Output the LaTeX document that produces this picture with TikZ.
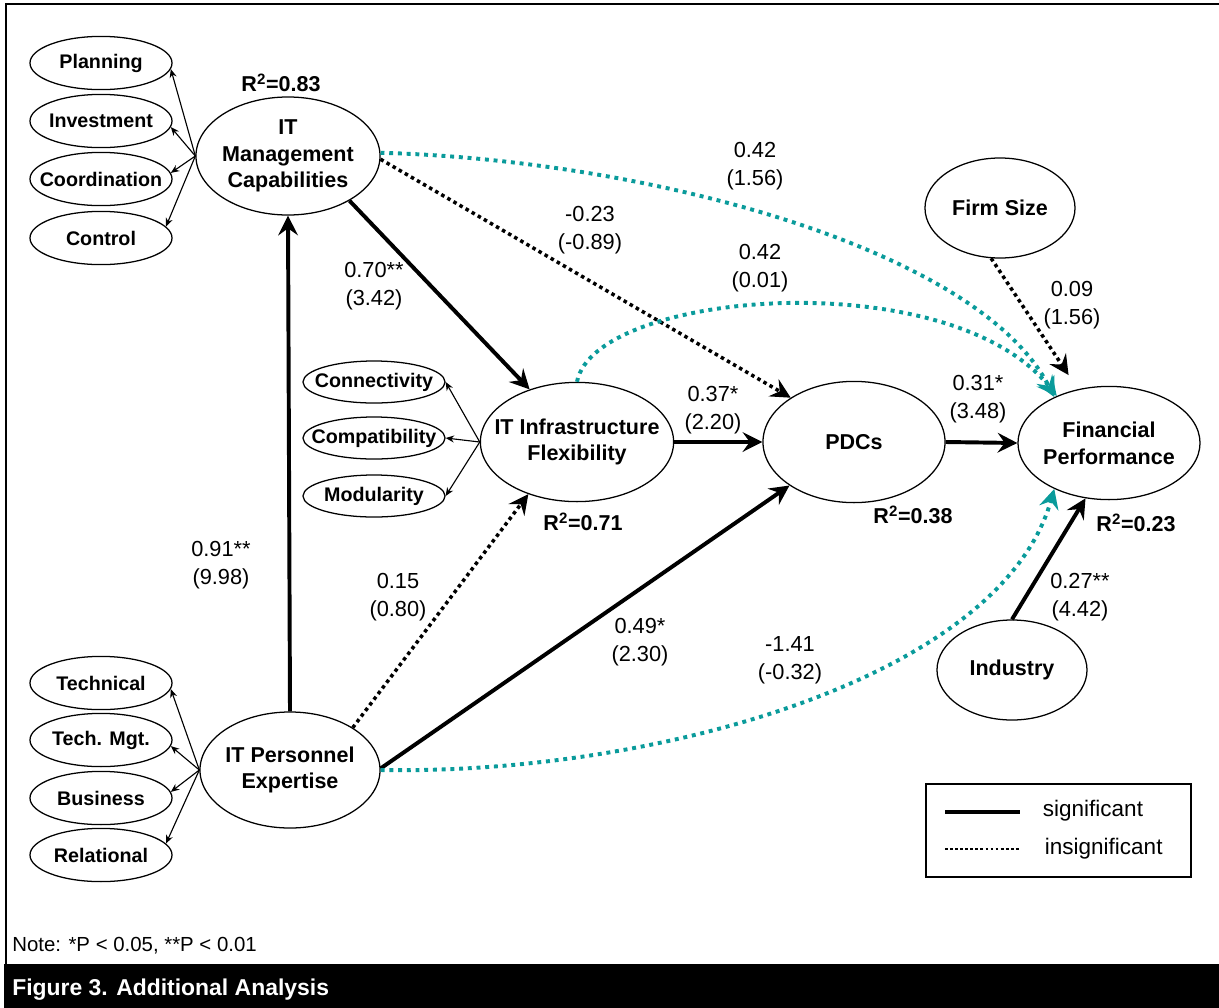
\documentclass[tikz,border=0pt]{standalone}
\usepackage{fontspec}
\setmainfont{Liberation Sans}
\usetikzlibrary{shapes.geometric,arrows.meta}
\definecolor{pathteal}{RGB}{10,155,155}

\begin{document}
\begin{tikzpicture}[x=0.025cm,y=-0.025cm,
    latent/.style={draw,ellipse,line width=0.9pt,inner xsep=-2cm,inner ysep=-1cm,align=center,font=\bfseries\fontsize{15.3}{19}\selectfont},
    indicator/.style={draw,ellipse,line width=0.9pt,inner xsep=-2cm,inner ysep=-1cm,minimum width=3.55cm,minimum height=1.33cm,font=\bfseries\fontsize{14}{17}\selectfont},
    coef/.style={align=center,font=\fontsize{15.5}{19.8}\selectfont},
    rsq/.style={font=\bfseries\fontsize{15.3}{18}\selectfont},
    sig/.style={line width=2.8pt,-{Stealth[length=14pt,width=14pt,inset=5pt]}},
    insig/.style={line width=2.5pt,dash pattern=on 2.5pt off 2.5pt,-{Stealth[length=14pt,width=14pt,inset=5pt]}},
    insigteal/.style={insig,pathteal,line width=2.8pt,dash pattern=on 2.8pt off 3.4pt},
    load/.style={line width=0.8pt,-{Stealth[length=6pt,width=5pt]}}]
        \useasboundingbox (0,0) rectangle (1219,1008);
        % frame
        \draw[line width=1.5pt] (1219,4) -- (6,4) -- (6,964);
        \fill (4,964) rectangle (1219,1008);
        % constructs
        \node[latent,minimum width=4.6cm,minimum height=2.95cm] (mgmt) at (288,156) {IT\\Management\\Capabilities};
        \node[latent,minimum width=4.83cm,minimum height=2.98cm] (infra) at (577,442) {IT Infrastructure\\Flexibility};
        \node[latent,minimum width=4.5cm,minimum height=2.9cm] (pers) at (290,770) {IT Personnel\\Expertise};
        \node[latent,minimum width=4.55cm,minimum height=3.03cm] (pdcs) at (854,442) {PDCs};
        \node[latent,minimum width=4.55cm,minimum height=2.83cm] (fin) at (1109,443) {Financial\\Performance};
        \node[latent,minimum width=3.75cm,minimum height=2.5cm] (firm) at (1000,208) {Firm Size};
        \node[latent,minimum width=3.75cm,minimum height=2.5cm] (ind) at (1012,670) {Industry};
        % indicators
        \node[indicator] (plan) at (101,63) {Planning};
        \node[indicator] (invest) at (101,121) {Investment};
        \node[indicator] (coord) at (101,179) {Coordination};
        \node[indicator] (ctrl) at (101,238) {Control};
        \node[indicator,minimum height=1.05cm] (conn) at (374,382) {Connectivity};
        \node[indicator,minimum height=1.05cm] (compat) at (374,438) {Compatibility};
        \node[indicator,minimum height=1.05cm] (modul) at (374,496) {Modularity};
        \node[indicator] (tech) at (101,683) {Technical};
        \node[indicator] (techmgt) at (101,740) {Tech. Mgt.};
        \node[indicator] (bus) at (101,798) {Business};
        \node[indicator] (rel) at (101,855) {Relational};
        % loadings
        \draw[load] (mgmt.west) -- (plan.-5);
        \draw[load] (mgmt.west) -- (invest.-5);
        \draw[load] (mgmt.west) -- (coord.5);
        \draw[load] (mgmt.west) -- (ctrl.10);
        \draw[load] (infra.west) -- (conn.east);
        \draw[load] (infra.west) -- (compat.east);
        \draw[load] (infra.west) -- (modul.east);
        \draw[load] (pers.west) -- (tech.-5);
        \draw[load] (pers.west) -- (techmgt.-5);
        \draw[load] (pers.west) -- (bus.5);
        \draw[load] (pers.west) -- (rel.10);
        % paths
        \draw[sig] (pers.north) -- (mgmt.south);
        \draw[sig] (mgmt.-36) -- (infra.132);
        \draw[insig] (mgmt.-2) -- (pdcs.145);
        \draw[insigteal] (mgmt.2) .. controls (650,160) and (980,250) .. (fin.140);
        \draw[insigteal] (infra.north) .. controls (595,290) and (950,262) .. (fin.138);
        \draw[sig] (infra.east) -- (pdcs.west);
        \draw[insig] (pers.34) -- (infra.-133);
        \draw[sig] (pers.1) -- (pdcs.-146);
        \draw[insigteal] (pers.east) .. controls (650,775) and (1000,680) .. (fin.-140);
        \draw[sig] (pdcs.east) -- (fin.west);
        \draw[insig,shorten >=12pt] (firm.-100) -- (fin.120);
        \draw[sig] (ind.north) -- (fin.-113);
        % coefficients
        \node[coef] at (221,565) {0.91**\\(9.98)};
        \node[coef] at (374,286) {0.70**\\(3.42)};
        \node[coef] at (590,230) {-0.23\\(-0.89)};
        \node[coef] at (755,166) {0.42\\(1.56)};
        \node[coef] at (760,268) {0.42\\(0.01)};
        \node[coef] at (713,410) {0.37*\\(2.20)};
        \node[coef] at (978,399) {0.31*\\(3.48)};
        \node[coef] at (1072,305) {0.09\\(1.56)};
        \node[coef] at (398,597) {0.15\\(0.80)};
        \node[coef] at (640,642) {0.49*\\(2.30)};
        \node[coef] at (790,660) {-1.41\\(-0.32)};
        \node[coef] at (1080,597) {0.27**\\(4.42)};
        % r squared
        \node[rsq] at (281,83) {R\textsuperscript{2}=0.83};
        \node[rsq] at (583,522) {R\textsuperscript{2}=0.71};
        \node[rsq] at (913,515) {R\textsuperscript{2}=0.38};
        \node[rsq] at (1136,523) {R\textsuperscript{2}=0.23};
        % legend
        \draw[line width=0.9pt] (926,784) rectangle (1191,877);
        \coordinate (sigA) at (945,812);
        \coordinate (sigB) at (1020,812);
        \coordinate (insA) at (945,849);
        \coordinate (insB) at (1020,849);
        \draw[line width=2.2pt] (sigA) -- (sigB);
        \draw[line width=2pt,dash pattern=on 2pt off 1.6pt] (insA) -- (insB);
        \node[anchor=west,font=\fontsize{16}{19}\selectfont] (sigtext) at (1038,811) {significant};
        \node[anchor=west,font=\fontsize{16}{19}\selectfont] (instext) at (1040,849) {insignificant};
        % note and caption
        \node[anchor=base west,inner sep=0pt,font=\fontsize{14.5}{17}\selectfont] (note) at (12,951) {Note: *P < 0.05, **P < 0.01};
        \node[anchor=base west,inner sep=0pt,text=white,font=\bfseries\fontsize{16.3}{19}\selectfont] (caption) at (12,995) {Figure 3. Additional Analysis};
\end{tikzpicture}
\end{document}
